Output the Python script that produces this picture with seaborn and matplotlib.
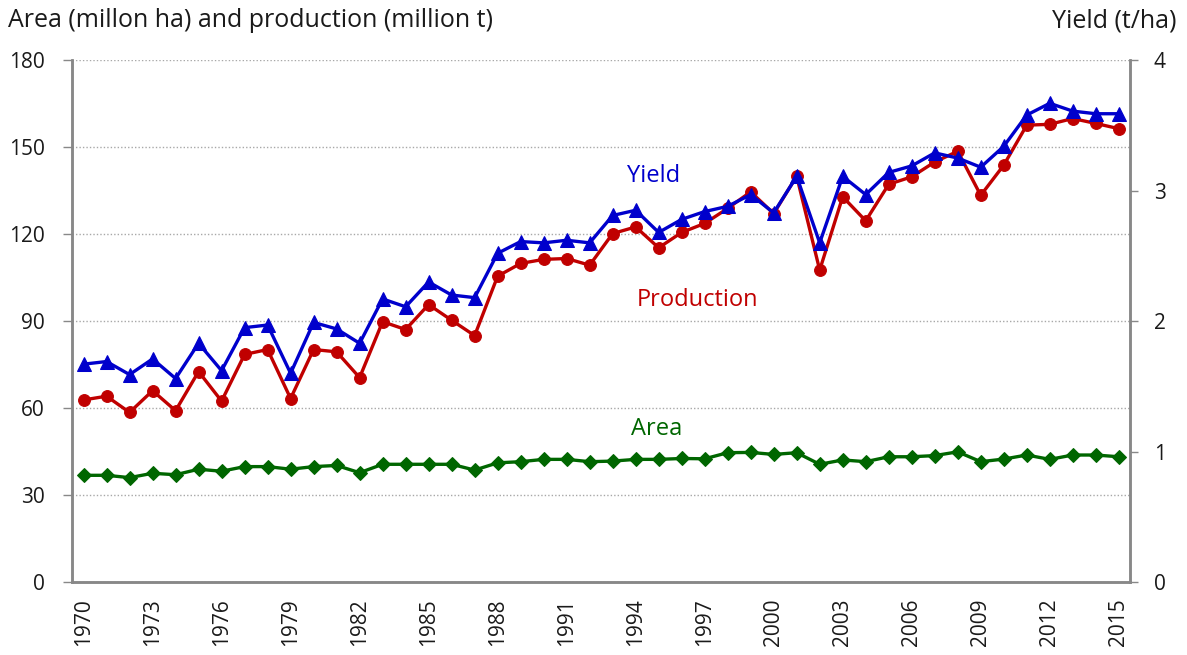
import numpy as np
import pandas as pd
import seaborn as sns
import matplotlib.pyplot as plt
from matplotlib.ticker import MultipleLocator, FixedLocator

years = list(range(1970, 2016))

production = [
    62.8, 64.1, 58.5, 66.0, 59.1, 72.6, 62.4, 78.5, 80.2, 63.3,
    80.2, 79.4, 70.5, 89.8, 87.1, 95.7, 90.3, 85.0, 105.5, 109.9,
    111.3, 111.6, 109.3, 120.2, 122.5, 115.3, 120.6, 123.7, 128.9, 134.6,
    127.1, 140.0, 107.6, 132.9, 124.6, 137.2, 139.8, 144.9, 148.6, 133.4,
    143.8, 157.6, 157.9, 159.9, 158.2, 156.4,
]

yield_tha = [
    1.67, 1.69, 1.59, 1.71, 1.56, 1.83, 1.62, 1.95, 1.97, 1.60,
    1.99, 1.94, 1.83, 2.17, 2.11, 2.30, 2.20, 2.18, 2.52, 2.61,
    2.60, 2.62, 2.60, 2.81, 2.85, 2.68, 2.78, 2.84, 2.88, 2.97,
    2.83, 3.11, 2.60, 3.11, 2.97, 3.14, 3.19, 3.29, 3.25, 3.18,
    3.34, 3.58, 3.67, 3.61, 3.59, 3.59,
]

area = [
    36.8, 36.8, 36.0, 37.5, 37.0, 38.9, 38.2, 39.8, 39.8, 38.9,
    39.8, 40.2, 37.7, 40.6, 40.6, 40.6, 40.6, 38.6, 41.1, 41.5,
    42.3, 42.3, 41.5, 41.7, 42.3, 42.3, 42.6, 42.5, 44.6, 44.7,
    44.0, 44.6, 40.6, 42.1, 41.5, 43.2, 43.2, 43.6, 44.9, 41.5,
    42.4, 43.8, 42.3, 43.8, 43.8, 43.2,
]

label_years = list(range(1970, 2016, 3))

df = pd.DataFrame({
    "year": years,
    "production": production,
    "yield": yield_tha,
    "area": area,
})

BLUE = "#0000CC"
RED = "#C00000"
GREEN = "#006600"
SPINE = "#888888"
TXT = "#1a1a1a"

sns.set_style("white")
plt.rcParams["font.family"] = ["Open Sans", "DejaVu Sans"]

fig = plt.figure(figsize=(11.87, 6.55), dpi=100)
ax = fig.add_axes([0.0607, 0.1115, 0.8915, 0.7965])

sns.lineplot(data=df, x="year", y="area", ax=ax, color=GREEN, lw=2.4,
             marker="D", markersize=7, markeredgecolor=GREEN)
sns.lineplot(data=df, x="year", y="production", ax=ax, color=RED, lw=2.4,
             marker="o", markersize=8.5, markeredgecolor=RED)

ax2 = ax.twinx()
sns.lineplot(data=df, x="year", y="yield", ax=ax2, color=BLUE, lw=2.4,
             marker="^", markersize=9.5, markeredgecolor=BLUE)

ax.set_xlim(1969.5, 2015.5)
ax.set_ylim(0, 180)
ax2.set_ylim(0, 4)
ax.yaxis.set_major_locator(MultipleLocator(30))
ax2.yaxis.set_major_locator(MultipleLocator(1))

ax.set_xticks(label_years)
ax.set_xticklabels([str(y) for y in label_years], rotation=90)
ax.xaxis.set_minor_locator(FixedLocator([y - 0.5 for y in years] + [2015.5]))
ax.tick_params(axis="x", which="major", length=0, pad=12, labelsize=15, colors=TXT)
ax.tick_params(axis="x", which="minor", length=6, width=1, color=SPINE, direction="out")
ax.tick_params(axis="y", length=6.5, width=1, color=SPINE, direction="out",
               labelsize=15, labelcolor=TXT, pad=13)
ax2.tick_params(axis="y", length=6, width=1, color=SPINE, direction="out",
                labelsize=15, labelcolor=TXT, pad=11)

ax.yaxis.grid(True, linestyle=(0, (1, 1.5)), color="#a8a8a8", lw=1)
ax.set_axisbelow(True)
ax2.grid(False)

for a in (ax, ax2):
    a.set_xlabel("")
    a.set_ylabel("")
    a.spines["top"].set_visible(False)
    for s in ("left", "right", "bottom"):
        a.spines[s].set_color(SPINE)
        a.spines[s].set_linewidth(1.8)

fig.text(0.007, 0.968, "Area (millon ha) and production (million t)",
         fontsize=18, color=TXT, ha="left", va="center")
fig.text(0.991, 0.968, "Yield (t/ha)", fontsize=18, color=TXT,
         ha="right", va="center")

ax.text(1994.76, 140, "Yield", color=BLUE, fontsize=17, ha="center", va="center")
ax.text(1996.67, 97.2, "Production", color=RED, fontsize=17, ha="center", va="center")
ax.text(1994.9, 52.8, "Area", color=GREEN, fontsize=17, ha="center", va="center")

fig.savefig("out.png", dpi=100)
